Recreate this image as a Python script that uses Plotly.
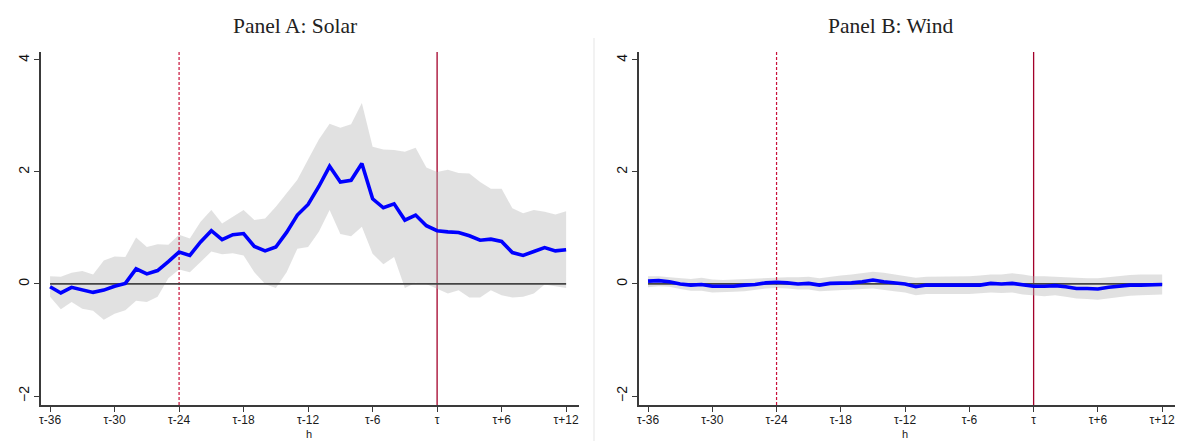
import plotly.graph_objects as go

W, H = 1178, 441

# ---------------- data ----------------
hours = list(range(-36, 13))
tick_vals = [-36, -30, -24, -18, -12, -6, 0, 6, 12]
tick_text = ["τ-36", "τ-30", "τ-24", "τ-18", "τ-12", "τ-6", "τ", "τ+6", "τ+12"]
y_ticks = [-2, 0, 2, 4]

solar_est = [-0.05, -0.16, -0.06, -0.10, -0.15, -0.11, -0.04, 0.01, 0.27, 0.18,
             0.24, 0.40, 0.57, 0.51, 0.75, 0.95, 0.79, 0.88, 0.90, 0.67,
             0.59, 0.66, 0.92, 1.23, 1.42, 1.74, 2.10, 1.82, 1.85, 2.15,
             1.52, 1.36, 1.43, 1.14, 1.23, 1.04, 0.95, 0.93, 0.92, 0.86,
             0.78, 0.80, 0.76, 0.56, 0.51, 0.58, 0.65, 0.59, 0.61]
solar_hi = [0.14, 0.13, 0.20, 0.23, 0.17, 0.42, 0.49, 0.48, 0.83, 0.66,
            0.71, 0.70, 0.88, 0.81, 1.11, 1.32, 1.08, 1.20, 1.32, 1.14,
            1.17, 1.38, 1.62, 1.86, 2.22, 2.58, 2.86, 2.79, 2.85, 3.23,
            2.45, 2.40, 2.39, 2.36, 2.43, 2.08, 2.00, 2.04, 1.98, 1.97,
            1.82, 1.70, 1.70, 1.35, 1.26, 1.32, 1.29, 1.24, 1.30]
solar_lo = [-0.23, -0.45, -0.32, -0.44, -0.48, -0.64, -0.53, -0.47, -0.30, -0.32,
            -0.23, 0.10, 0.26, 0.21, 0.39, 0.58, 0.53, 0.55, 0.51, 0.21,
            0.00, -0.07, 0.21, 0.63, 0.66, 0.93, 1.32, 0.89, 0.85, 1.02,
            0.54, 0.35, 0.48, -0.07, 0.02, 0.00, -0.08, -0.17, -0.11, -0.24,
            -0.24, -0.11, -0.20, -0.24, -0.23, -0.17, -0.01, -0.04, -0.07]

wind_est = [0.05, 0.06, 0.04, 0.00, -0.02, -0.01, -0.04, -0.04, -0.04, -0.02,
            -0.01, 0.02, 0.03, 0.02, 0.00, 0.01, -0.02, 0.01, 0.01, 0.02,
            0.04, 0.07, 0.04, 0.02, 0.00, -0.05, -0.02, -0.02, -0.02, -0.02,
            -0.02, -0.02, 0.01, 0.00, 0.01, -0.02, -0.04, -0.04, -0.03, -0.05,
            -0.08, -0.08, -0.09, -0.06, -0.04, -0.02, -0.02, -0.01, -0.01]
wind_hi = [0.14, 0.14, 0.12, 0.10, 0.09, 0.11, 0.08, 0.07, 0.08, 0.09,
           0.10, 0.11, 0.12, 0.12, 0.12, 0.13, 0.10, 0.13, 0.15, 0.17,
           0.20, 0.22, 0.20, 0.17, 0.15, 0.11, 0.13, 0.13, 0.13, 0.14,
           0.14, 0.15, 0.17, 0.17, 0.19, 0.17, 0.14, 0.14, 0.13, 0.12,
           0.10, 0.10, 0.10, 0.12, 0.15, 0.16, 0.17, 0.17, 0.17]
wind_lo = [-0.06, -0.04, -0.05, -0.09, -0.12, -0.12, -0.15, -0.15, -0.14, -0.13,
           -0.11, -0.08, -0.07, -0.08, -0.10, -0.10, -0.13, -0.11, -0.11, -0.10,
           -0.09, -0.08, -0.11, -0.13, -0.15, -0.20, -0.18, -0.18, -0.18, -0.18,
           -0.18, -0.17, -0.15, -0.16, -0.15, -0.19, -0.21, -0.22, -0.20, -0.23,
           -0.26, -0.27, -0.28, -0.25, -0.23, -0.21, -0.20, -0.19, -0.19]

ref_dashed = -24
ref_solid = 0

# ---------------- styling ----------------
BAND = "rgba(175,175,175,0.38)"
BLUE = "#0000ff"
AXIS_C = "#3a3a3a"
DASH_C = "#c8103a"
SOLID_C = "#a3002a"

Y_RANGE = [-2.16, 4.14]
X_RANGE = [-36.85, 13.2]

fig = go.Figure()


def add_panel(est, lo, hi, xa, ya):
    ymin, ymax = Y_RANGE
    # solid reference line (drawn under the band)
    fig.add_trace(go.Scatter(x=[ref_solid, ref_solid], y=[ymin, ymax], mode="lines",
                             line=dict(color=SOLID_C, width=1.3), xaxis=xa, yaxis=ya,
                             showlegend=False, hoverinfo="skip"))
    # confidence band
    fig.add_trace(go.Scatter(x=hours + hours[::-1], y=hi + lo[::-1], fill="toself",
                             fillcolor=BAND, line=dict(width=0), mode="lines",
                             xaxis=xa, yaxis=ya, showlegend=False, hoverinfo="skip"))
    # dashed reference line
    fig.add_trace(go.Scatter(x=[ref_dashed, ref_dashed], y=[ymin, ymax], mode="lines",
                             line=dict(color=DASH_C, width=1.2, dash="3px,2px"),
                             xaxis=xa, yaxis=ya, showlegend=False, hoverinfo="skip"))
    # zero line
    fig.add_trace(go.Scatter(x=hours, y=[0 for _ in hours], mode="lines",
                             line=dict(color="#444444", width=1.8), xaxis=xa, yaxis=ya,
                             showlegend=False, hoverinfo="skip"))
    # estimate
    fig.add_trace(go.Scatter(x=hours, y=est, mode="lines",
                             line=dict(color=BLUE, width=3.6), xaxis=xa, yaxis=ya,
                             showlegend=False))


add_panel(solar_est, solar_lo, solar_hi, "x", "y")
add_panel(wind_est, wind_lo, wind_hi, "x2", "y2")

y_dom = [1 - 405 / H, 1 - 52 / H]

xcommon = dict(range=X_RANGE, tickvals=tick_vals, ticktext=tick_text, showgrid=False,
               zeroline=False, showline=True, linecolor=AXIS_C, linewidth=1.6,
               ticks="outside", ticklen=5, tickwidth=1.2, tickcolor=AXIS_C,
               ticklabelstandoff=-2,
               tickfont=dict(family="Liberation Sans, Arial", size=12, color="#1a1a1a"),
               mirror=False)
ycommon = dict(range=Y_RANGE, tickvals=y_ticks, showgrid=False, zeroline=False,
               showline=True, linecolor=AXIS_C, linewidth=1.6, ticks="outside",
               ticklen=5, tickwidth=1.2, tickcolor=AXIS_C, tickangle=-90,
               tickfont=dict(family="Liberation Sans, Arial", size=14, color="#111111"))

fig.update_layout(
    width=W, height=H,
    margin=dict(l=0, r=0, t=0, b=0),
    paper_bgcolor="white", plot_bgcolor="white",
    xaxis=dict(domain=[39 / W, 578 / W], anchor="y", **xcommon),
    yaxis=dict(domain=y_dom, anchor="x", **ycommon),
    xaxis2=dict(domain=[638 / W, 1175 / W], anchor="y2", **xcommon),
    yaxis2=dict(domain=y_dom, anchor="x2", **ycommon),
    showlegend=False,
)

title_font = dict(family="Liberation Serif, DejaVu Serif, serif", size=21.5, color="#222222")
fig.add_annotation(text="Panel A: Solar", x=293 / W, y=1 - 26 / H, xref="paper", yref="paper",
                   showarrow=False, font=title_font, xanchor="center", yanchor="middle")
fig.add_annotation(text="Panel B: Wind", x=891 / W, y=1 - 26 / H, xref="paper", yref="paper",
                   showarrow=False, font=title_font, xanchor="center", yanchor="middle")
hfont = dict(family="Liberation Sans, Arial", size=11, color="#1a1a1a")
fig.add_annotation(text="h", x=308 / W, y=0, xref="paper", yref="paper",
                   showarrow=False, font=hfont, xanchor="center", yanchor="bottom",
                   borderpad=0)
fig.add_annotation(text="h", x=905 / W, y=0, xref="paper", yref="paper",
                   showarrow=False, font=hfont, xanchor="center", yanchor="bottom",
                   borderpad=0)

# faint separator between the two graph regions
fig.add_shape(type="line", xref="paper", yref="paper", x0=593 / W, x1=593 / W,
              y0=0, y1=1 - 38 / H, line=dict(color="#eeeeee", width=1.5))

fig.write_html("out.html")
